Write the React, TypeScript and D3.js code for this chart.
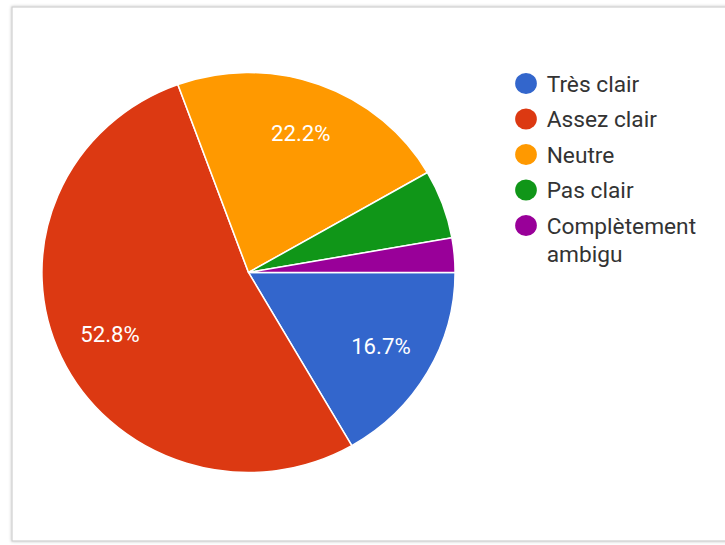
import React, { useEffect } from 'react';
import * as d3 from 'd3';

const categories = ['Très clair', 'Assez clair', 'Neutre', 'Pas clair', 'Complètement ambigu'];
const counts = [6, 19, 8, 2, 1];
const colors = ['#3366cc', '#dc3912', '#ff9900', '#109618', '#990099'];

const W = 725;
const H = 545;
// the screenshot is a little wider than tall, so everything is stretched on x
const SX = 1.033;

export default function App() {
  useEffect(() => {
    document.body.style.margin = '0';
  }, []);

  const radius = 200;
  const total = d3.sum(counts);
  const pie = d3.pie<number>()
    .sort(null)
    .startAngle(Math.PI / 2)
    .endAngle(Math.PI / 2 + 2 * Math.PI);
  const slices = pie(counts);
  const arc = d3.arc<d3.PieArcDatum<number>>().innerRadius(0).outerRadius(radius);
  const labelArc = d3.arc<d3.PieArcDatum<number>>().innerRadius(radius * 0.74).outerRadius(radius * 0.74);
  const pct = d3.format('.1%');

  const legendY = d3.scaleLinear().domain([0, 1]).range([83.5, 119]);

  return (
    <svg width={W} height={H} viewBox={`0 0 ${W} ${H}`} style={{ display: 'block', fontFamily: 'Roboto, sans-serif' }}>
      <defs>
        <filter id="shadow" x="-5%" y="-5%" width="110%" height="110%">
          <feGaussianBlur in="SourceAlpha" stdDeviation="1.5" />
          <feOffset dx="0" dy="0" result="blur" />
          <feFlood floodColor="#000" floodOpacity="0.25" />
          <feComposite in2="blur" operator="in" />
          <feMerge>
            <feMergeNode />
            <feMergeNode in="SourceGraphic" />
          </feMerge>
        </filter>
      </defs>
      <rect width={W} height={H} fill="#fff" />
      <rect x={12} y={7} width={740} height={534} fill="#fff" stroke="#cfcfcf" strokeWidth={1.2} filter="url(#shadow)" />

      <g transform={`translate(248.5,272.5) scale(${SX},1)`}>
        {slices.map((s, i) => (
          <path key={i} d={arc(s) || ''} fill={colors[i]} stroke="#fff" strokeWidth={1.5} />
        ))}
        {slices.map((s, i) => {
          if (s.value / total < 0.1) return null;
          const [x, y] = labelArc.centroid(s);
          return (
            <text key={i} x={x} y={y} textAnchor="middle" dominantBaseline="central"
              fill="#fff" fontSize={21.5}>
              {pct(s.value / total)}
            </text>
          );
        })}
      </g>

      <g>
        {categories.map((c, i) => {
          const cy = legendY(i);
          const words = c === 'Complètement ambigu' ? ['Complètement', 'ambigu'] : [c];
          return (
            <g key={c} transform={`translate(526,${cy}) scale(${SX},1)`}>
              <circle r={10.5} fill={colors[i]} />
              <text x={20} y={8} fill="#333" fontSize={22}>
                {words.map((w, j) => (
                  <tspan key={j} x={20} dy={j === 0 ? 0 : 29}>{w}</tspan>
                ))}
              </text>
            </g>
          );
        })}
      </g>
    </svg>
  );
}
